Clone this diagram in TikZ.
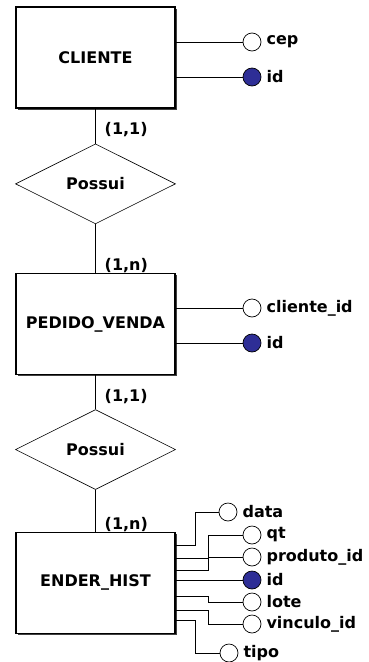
\documentclass[tikz,border=0pt]{standalone}
\usepackage{fontspec}
\setmainfont{DejaVu Sans}
\usetikzlibrary{positioning,shapes.geometric,shadows}

\definecolor{keyblue}{RGB}{46,46,150}

\tikzset{
  erfont/.style={font=\fontsize{16}{19}\selectfont\bfseries},
  entity/.style={draw, erfont, line width=1.1pt, fill=white, inner sep=0pt,
    minimum width=159pt, minimum height=101pt,
    drop shadow={shadow xshift=1.6pt, shadow yshift=-1.6pt, fill=black!75, opacity=1}},
  relation/.style={draw, diamond, erfont, line width=0.6pt, fill=white, inner sep=0pt,
    minimum width=160pt, minimum height=80pt},
  attr/.style={draw, circle, line width=0.7pt, fill=white, inner sep=0pt, minimum size=18pt},
  keyattr/.style={attr, fill=keyblue},
  attrname/.style={erfont, inner sep=0pt, xshift=5pt},
  card/.style={erfont, inner sep=0pt},
  link/.style={line width=0.7pt}
}

\begin{document}
\begin{tikzpicture}[x=1pt, y=1pt]
  \useasboundingbox (0,0) rectangle (368,-662);

  % entities and relationships
  \node[entity] (cliente) at (95.5,-57.5) {CLIENTE};
  \node[relation, below=35pt of cliente] (possui1) {Possui};
  \node[entity, below=49pt of possui1] (pedido) {PEDIDO\_VENDA};
  \node[relation, below=34pt of pedido] (possui2) {Possui};
  \node[entity, below=42pt of possui2] (ender) {ENDER\_HIST};

  % cardinalities
  \node[card, below right=14pt and 9pt of cliente.south] (c1) {(1,1)};
  \node[card, above right=0pt and 9pt of pedido.north] (c2) {(1,n)};
  \node[card, below right=14pt and 9pt of pedido.south] (c3) {(1,1)};
  \node[card, above right=0pt and 9pt of ender.north] (c4) {(1,n)};

  \draw[link] (cliente) -- (possui1) -- (pedido);
  \draw[link] (pedido) -- (possui2) -- (ender);

  % attributes of CLIENTE
  \node[attr, label={[attrname]right:cep}] (cep) at (252,-42) {};
  \node[keyattr, label={[attrname]right:id}] (cliid) at (252,-77) {};
  \draw[link] (cliente.east |- cep) -- (cep);
  \draw[link] (cliente.east |- cliid) -- (cliid);

  % attributes of PEDIDO_VENDA
  \node[attr, label={[attrname]right:cliente\_id}] (clienteid) at (252,-308) {};
  \node[keyattr, label={[attrname]right:id}] (pedid) at (252,-343) {};
  \draw[link] (pedido.east |- clienteid) -- (clienteid);
  \draw[link] (pedido.east |- pedid) -- (pedid);

  % attributes of ENDER_HIST
  \node[attr, label={[attrname]right:data}] (data) at (228,-512) {};
  \node[attr, label={[attrname]right:qt}] (qt) at (252,-535) {};
  \node[attr, label={[attrname]right:produto\_id}] (produto) at (252,-557) {};
  \node[keyattr, label={[attrname]right:id}] (endid) at (252,-580) {};
  \node[attr, label={[attrname]right:lote}] (lote) at (252,-602) {};
  \node[attr, label={[attrname]right:vinculo\_id}] (vinculo) at (252,-624) {};
  \node[attr, label={[attrname]right:tipo}] (tipo) at (229,-653) {};

  \draw[link] ([yshift=38pt]ender.east) -- ++(20,0) |- (data);
  \draw[link] ([yshift=25pt]ender.east) -- ++(33,0) |- (qt);
  \draw[link] ([yshift=13pt]ender.east) -- ++(33,0) |- (produto);
  \draw[link] (ender.east |- endid) -- (endid);
  \draw[link] ([yshift=-13pt]ender.east) -- ++(33,0) |- (lote);
  \draw[link] ([yshift=-27pt]ender.east) -- ++(33,0) |- (vinculo);
  \draw[link] ([yshift=-37pt]ender.east) -- ++(20,0) |- (tipo);
\end{tikzpicture}
\end{document}
